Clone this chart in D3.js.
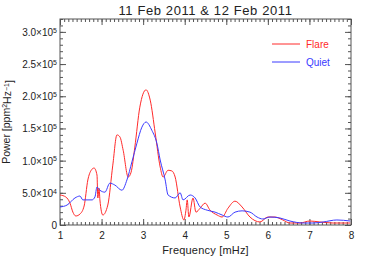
<!DOCTYPE html>
<html>
<head>
<meta charset="utf-8">
<script src="https://cdn.jsdelivr.net/npm/d3@7"></script>
<style>
  body { margin: 0; background: #fff; }
  text { font-family: "Liberation Sans", Arial, sans-serif; }
</style>
</head>
<body>
<div id="chart"></div>
<script>
// data: frequency in mHz, power in ppm^2/Hz
var flareFreq = [1.00,1.14,1.24,1.31,1.38,1.48,1.58,1.67,1.75,1.82,1.89,1.91,1.94,1.96,2.03,2.15,2.27,2.37,2.44,2.52,
                 2.64,2.71,2.80,2.92,3.07,3.17,3.29,3.41,3.48,3.60,3.69,3.77,3.89,3.98,4.03,4.06,4.10,4.20,4.27,4.37,
                 4.49,4.61,4.78,4.90,5.04,5.21,5.38,5.57,5.81,6.00,6.17,6.36,6.53,6.77,7.01,7.25,7.57,7.98];
var flarePower = [46600,43500,34000,20000,14000,17000,29500,70000,85000,88500,77600,42000,57000,39000,15500,31000,93000,140000,137000,116000,
                  74500,82000,121000,183000,210000,194000,143000,90000,74500,85000,84000,74500,28000,7800,23000,39000,12400,42000,20000,26000,
                  34000,23000,15500,12400,26000,37000,28000,12400,4700,12400,12400,7800,3100,3100,6200,4700,3100,3100];

var quietFreq = [1.00,1.17,1.36,1.48,1.55,1.77,1.84,1.89,1.96,2.08,2.20,2.32,2.49,2.61,2.73,2.85,2.97,3.07,3.21,3.33,
                 3.41,3.53,3.60,3.77,3.89,3.96,4.13,4.25,4.37,4.54,4.73,4.90,5.04,5.21,5.38,5.57,5.74,5.88,6.05,6.29,
                 6.53,6.85,7.09,7.33,7.66,7.98];
var quietPower = [28000,31000,42000,45000,39000,39000,43500,59000,54000,51000,65000,62000,54000,70000,98000,127000,152000,160000,147000,127000,
                  101000,70000,46600,42000,50000,39000,46600,42000,28000,23000,20000,15500,12400,20000,22000,20000,12400,9300,12400,10900,
                  6200,3100,3100,4700,7800,6200];

var xTicks = [1, 2, 3, 4, 5, 6, 7, 8];
var yTicks = [0, 50000, 100000, 150000, 200000, 250000, 300000];
var yTickLabels = ["0", "5.0×10|4", "1.0×10|5", "1.5×10|5", "2.0×10|5", "2.5×10|5", "3.0×10|5"];
var seriesNames = ["Flare", "Quiet"];
var seriesColors = ["#ff2a2a", "#3a3aff"];

var W = 369, H = 264;
var margin = {top: 19, right: 18, bottom: 39, left: 60},
    width = W - margin.left - margin.right,
    height = H - margin.top - margin.bottom;

var svg = d3.select("#chart").append("svg")
    .attr("width", W)
    .attr("height", H);

var g = svg.append("g")
    .attr("transform", "translate(" + margin.left + "," + margin.top + ")");

var x = d3.scaleLinear().domain([1, 8]).range([0, width]);
var y = d3.scaleLinear().domain([0, 320000]).range([height, 0]);

var axisColor = "#555";

var xMinor = d3.range(1, 8.001, 0.1);
var yMinor = d3.range(0, 320001, 10000);

function styleAxis(sel) {
  sel.select(".domain").remove();
  sel.selectAll("line").attr("stroke", axisColor);
  sel.selectAll("text").attr("fill", "#222").style("font-size", "10px");
}

// minor ticks
g.append("g").attr("transform", "translate(0," + height + ")")
  .call(d3.axisBottom(x).tickValues(xMinor).tickSize(-3).tickFormat(""))
  .call(styleAxis);
g.append("g")
  .call(d3.axisTop(x).tickValues(xMinor).tickSize(-3).tickFormat(""))
  .call(styleAxis);
g.append("g")
  .call(d3.axisLeft(y).tickValues(yMinor).tickSize(-3).tickFormat(""))
  .call(styleAxis);
g.append("g").attr("transform", "translate(" + width + ",0)")
  .call(d3.axisRight(y).tickValues(yMinor).tickSize(-3).tickFormat(""))
  .call(styleAxis);

// major ticks
g.append("g").attr("transform", "translate(0," + height + ")")
  .call(d3.axisBottom(x).tickValues(xTicks).tickSize(-6).tickPadding(7).tickFormat(d3.format("d")))
  .call(styleAxis);
g.append("g")
  .call(d3.axisTop(x).tickValues(xTicks).tickSize(-6).tickFormat(""))
  .call(styleAxis);
var yAxis = g.append("g")
  .call(d3.axisLeft(y).tickValues(yTicks).tickSize(-6).tickFormat(""))
  .call(styleAxis);
g.append("g").attr("transform", "translate(" + width + ",0)")
  .call(d3.axisRight(y).tickValues(yTicks).tickSize(-6).tickFormat(""))
  .call(styleAxis);

// y tick labels with superscript exponent
yAxis.selectAll(".tick").each(function(d, i) {
  var parts = yTickLabels[i].split("|");
  var t = d3.select(this).append("text")
    .attr("x", -3)
    .attr("dy", "0.35em")
    .attr("text-anchor", "end")
    .attr("fill", "#222")
    .style("font-size", "10px");
  t.append("tspan").text(parts[0]);
  if (parts[1]) {
    t.append("tspan").attr("dy", "-0.45em").style("font-size", "7px").text(parts[1]);
  }
});

// frame
g.append("rect")
  .attr("width", width)
  .attr("height", height)
  .attr("fill", "none")
  .attr("stroke", axisColor)
  .attr("stroke-width", 1);

// curves
var line = d3.line()
  .x(function(d) { return x(d[0]); })
  .y(function(d) { return y(d[1]); })
  .curve(d3.curveMonotoneX);

var series = [
  d3.zip(flareFreq, flarePower),
  d3.zip(quietFreq, quietPower)
];

g.selectAll(".series")
  .data(series)
  .enter().append("path")
  .attr("class", "series")
  .attr("fill", "none")
  .attr("stroke", function(d, i) { return seriesColors[i]; })
  .attr("stroke-width", 1)
  .attr("d", line);

// legend
var legend = g.selectAll(".legend")
  .data(seriesNames)
  .enter().append("g")
  .attr("class", "legend")
  .attr("transform", function(d, i) { return "translate(212," + (25 + i * 18) + ")"; });
legend.append("line")
  .attr("x1", 0).attr("x2", 28)
  .attr("stroke", function(d, i) { return seriesColors[i]; });
legend.append("text")
  .attr("x", 34)
  .attr("dy", "0.35em")
  .attr("fill", function(d, i) { return seriesColors[i]; })
  .style("font-size", "10px")
  .text(function(d) { return d; });

// titles
svg.append("text")
  .attr("x", margin.left + width / 2)
  .attr("y", 15)
  .attr("text-anchor", "middle")
  .attr("fill", "#222")
  .style("font-size", "13px")
  .style("letter-spacing", "0.6px")
  .text("11 Feb 2011 & 12 Feb 2011");

svg.append("text")
  .attr("x", margin.left + width / 2)
  .attr("y", 254)
  .attr("text-anchor", "middle")
  .attr("fill", "#222")
  .style("font-size", "11px")
  .style("letter-spacing", "0.2px")
  .text("Frequency [mHz]");

var yl = svg.append("text")
  .attr("transform", "translate(10," + (margin.top + height / 2) + ") rotate(-90)")
  .attr("text-anchor", "middle")
  .attr("fill", "#222")
  .style("font-size", "10.5px");
yl.append("tspan").text("Power [ppm");
yl.append("tspan").attr("dy", "-0.4em").style("font-size", "7px").text("2");
yl.append("tspan").attr("dy", "0.4em").text("Hz");
yl.append("tspan").attr("dy", "-0.4em").style("font-size", "7px").text("−1");
yl.append("tspan").attr("dy", "0.4em").text("]");
</script>
</body>
</html>
